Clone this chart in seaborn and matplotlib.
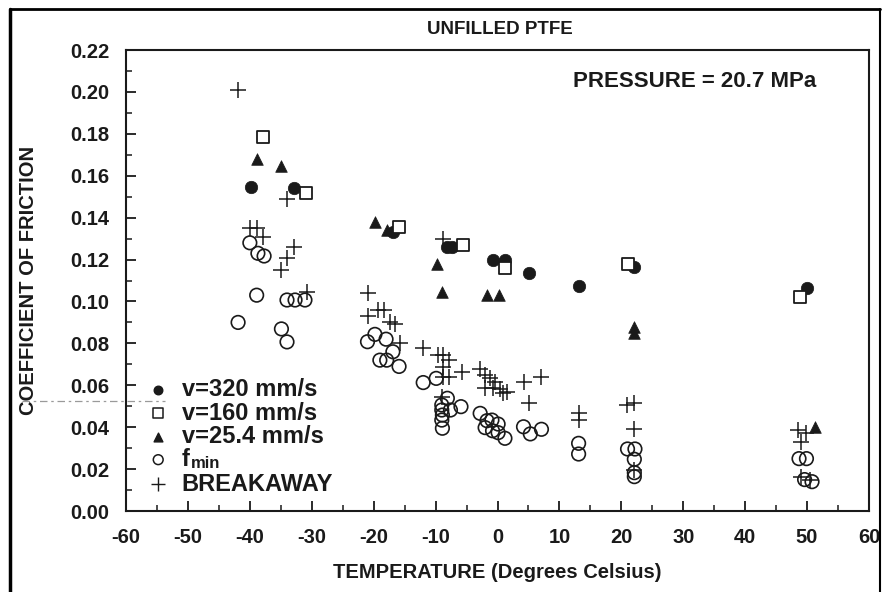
import matplotlib
matplotlib.use("Agg")
import matplotlib.pyplot as plt
from matplotlib.lines import Line2D
from matplotlib.ticker import MultipleLocator, FormatStrFormatter
import seaborn as sns

sns.set_theme(style="white")
plt.rcParams["font.family"] = ["Liberation Sans", "DejaVu Sans"]
plt.rcParams["axes.unicode_minus"] = False

# v = 320 mm/s (filled circles)
v320_t = [-39.8, -32.9, -16.9, -8.2, -7.4, -0.8, 1.2, 5.1, 13.1, 22.1, 50.0]
v320_f = [0.1547, 0.1540, 0.1333, 0.1260, 0.1260, 0.1198, 0.1198, 0.1138, 0.1074, 0.1163, 0.1063]

# v = 160 mm/s (open squares)
v160_t = [-37.9, -30.9, -15.9, -5.6, 1.2, 21.0, 48.9]
v160_f = [0.1785, 0.1518, 0.1356, 0.1270, 0.1160, 0.1179, 0.1023]

# v = 25.4 mm/s (filled triangles)
v25_t = [-38.9, -34.9, -19.8, -17.9, -9.8, -8.9, -1.7, 0.3, 22.1, 22.1, 51.3]
v25_f = [0.1680, 0.1647, 0.1380, 0.1340, 0.1180, 0.1047, 0.1030, 0.1030, 0.0880, 0.0850, 0.0402]

# minimum friction (open circles)
fmin_t = [-41.9, -40.0, -38.7, -37.7, -38.9, -34.0, -32.7, -31.1, -34.9, -34.0,
          -21.0, -19.8, -18.0, -16.9, -19.0, -17.9, -15.9,
          -12.0, -9.9, -8.1, -9.0, -9.0, -8.9, -9.0, -8.9, -7.6, -5.9,
          -2.8, -1.7, -0.9, 0.1, -2.0, -0.8, 0.1, 1.2, 4.2, 5.3, 7.1,
          13.1, 13.1,
          21.0, 22.2, 22.1, 22.1, 22.1,
          48.7, 49.9, 49.6, 50.8]
fmin_f = [0.0900, 0.1280, 0.1230, 0.1217, 0.1030, 0.1007, 0.1007, 0.1007, 0.0869, 0.0807,
          0.0808, 0.0843, 0.0820, 0.0760, 0.0720, 0.0720, 0.0690,
          0.0613, 0.0633, 0.0538, 0.0506, 0.0482, 0.0458, 0.0434, 0.0395, 0.0482, 0.0498,
          0.0466, 0.0431, 0.0434, 0.0415, 0.0398, 0.0383, 0.0374, 0.0347, 0.0402, 0.0368, 0.0390,
          0.0323, 0.0272,
          0.0296, 0.0296, 0.0247, 0.0183, 0.0164,
          0.0250, 0.0250, 0.0150, 0.0140]

# breakaway friction (plus signs)
brk_t = [-41.9, -40.0, -38.9, -37.9, -34.0, -32.9, -34.0, -34.9, -30.8,
         -20.9, -20.9, -19.3, -18.4, -17.4, -16.6, -15.8,
         -12.0, -9.6, -8.8, -7.9, -8.8, -5.8, -7.9, -8.8, -9.0, -8.8,
         -2.8, -2.0, -1.2, -0.4, -2.0, -0.7, 0.4, 0.9, 1.5, 4.2, 7.1, 5.1,
         13.1, 13.1,
         20.9, 22.0, 22.1, 22.1,
         48.6, 49.9, 49.1, 49.1, 50.5]
brk_f = [0.2010, 0.1351, 0.1350, 0.1308, 0.1490, 0.1260, 0.1208, 0.1150, 0.1045,
         0.1040, 0.0930, 0.0960, 0.0960, 0.0904, 0.0893, 0.0800,
         0.0780, 0.0745, 0.0745, 0.0720, 0.0689, 0.0665, 0.0638, 0.0640, 0.0546, 0.1300,
         0.0676, 0.0649, 0.0633, 0.0617, 0.0586, 0.0586, 0.0581, 0.0562, 0.0570, 0.0617, 0.0638, 0.0517,
         0.0466, 0.0434,
         0.0506, 0.0514, 0.0391, 0.0196,
         0.0387, 0.0371, 0.0331, 0.0164, 0.0150]

legend_labels = ["v=320 mm/s", "v=160 mm/s", "v=25.4 mm/s", "f", "BREAKAWAY"]

fig = plt.figure(figsize=(8.85, 5.92), dpi=100)
ax = fig.add_axes([0.1424, 0.1368, 0.8395, 0.7787])

ink = "#1a1a1a"
sns.scatterplot(x=v320_t, y=v320_f, marker="o", s=80, color=ink, edgecolor=ink, linewidth=0.5, ax=ax, zorder=3)
sns.scatterplot(x=v160_t, y=v160_f, marker="s", s=80, facecolor="white", edgecolor=ink, linewidth=1.3, ax=ax, zorder=3)
sns.scatterplot(x=v25_t, y=v25_f, marker="^", s=70, color=ink, edgecolor=ink, linewidth=0.5, ax=ax, zorder=3)
sns.scatterplot(x=fmin_t, y=fmin_f, marker="o", s=95, facecolor="none", edgecolor=ink, linewidth=1.2, ax=ax, zorder=2)
sns.scatterplot(x=brk_t, y=brk_f, marker="+", s=130, color=ink, linewidth=1.1, ax=ax, zorder=2)

ax.set_xlim(-60, 60)
ax.set_ylim(0.0, 0.22)
ax.xaxis.set_major_locator(MultipleLocator(10))
ax.xaxis.set_minor_locator(MultipleLocator(5))
ax.yaxis.set_major_locator(MultipleLocator(0.02))
ax.yaxis.set_minor_locator(MultipleLocator(0.01))
ax.yaxis.set_major_formatter(FormatStrFormatter("%.2f"))
ax.tick_params(axis="both", which="both", direction="in", colors=ink,
               bottom=True, left=True, top=False, right=False)
ax.tick_params(axis="both", which="major", length=7, width=1.3, labelsize=14.5, pad=12)
ax.tick_params(axis="both", which="minor", length=4, width=1.1)
for lab in ax.get_xticklabels() + ax.get_yticklabels():
    lab.set_fontweight("bold")
for sp in ax.spines.values():
    sp.set_color(ink)
    sp.set_linewidth(1.5)

ax.set_xlabel("TEMPERATURE (Degrees Celsius)", fontsize=14.5, fontweight="bold", color=ink)
ax.xaxis.set_label_coords(0.5, -0.113)
ax.set_ylabel("COEFFICIENT OF FRICTION", fontsize=14.5, fontweight="bold", color=ink)
ax.yaxis.set_label_coords(-0.118, 0.5)
fig.text(500 / 885, 1 - 29 / 592, "UNFILLED PTFE", fontsize=13.5, fontweight="bold",
         color=ink, ha="center", va="center")
ax.text(12.2, 0.2048, "PRESSURE = 20.7 MPa", fontsize=16, fontweight="bold", color=ink, va="center")

# legend drawn inside the axes, bottom-left corner
leg_y = [0.0578, 0.0466, 0.0354, 0.0245, 0.0128]
lx, tx = -54.8, -51.0
ax.scatter([lx], [leg_y[0]], marker="o", s=38, color=ink)
ax.scatter([lx], [leg_y[1]], marker="s", s=45, facecolor="white", edgecolor=ink, linewidth=1.1)
ax.scatter([lx], [leg_y[2]], marker="^", s=40, color=ink)
ax.scatter([lx], [leg_y[3]], marker="o", s=50, facecolor="none", edgecolor=ink, linewidth=1.1)
ax.scatter([lx], [leg_y[4]], marker="+", s=90, color=ink, linewidth=1.0)
for yy, lab in zip(leg_y, legend_labels):
    ax.text(tx, yy, lab, fontsize=17, fontweight="bold", color=ink, va="center")
ax.annotate("min", xy=(tx, leg_y[3]), xytext=(6.5, -2.5), textcoords="offset points",
            fontsize=12, fontweight="bold", color=ink, va="center")

# page frame
W, H = 885, 592
fig.add_artist(Line2D([10 / W, 10 / W], [0, 1 - 9 / H], color="black", lw=2.5, transform=fig.transFigure))
fig.add_artist(Line2D([10 / W, 880 / W], [1 - 9 / H, 1 - 9 / H], color="black", lw=2.0, transform=fig.transFigure))
fig.add_artist(Line2D([880 / W, 880 / W], [1 - 9 / H, 0], color="black", lw=1.5, transform=fig.transFigure))
# faint scanner streak at the left margin
fig.add_artist(Line2D([22 / W, 165 / W], [1 - 401 / H, 1 - 401 / H], color="#9a9a9a", lw=0.9,
                      linestyle=(0, (6, 3, 2, 3)), transform=fig.transFigure))

fig.savefig("out.png", dpi=100, facecolor="white")
